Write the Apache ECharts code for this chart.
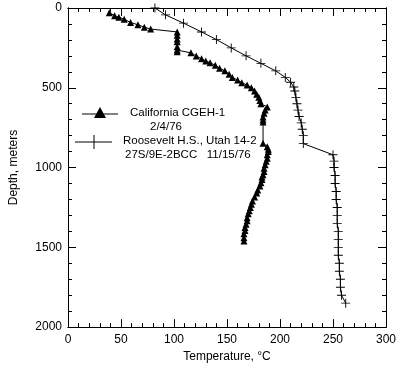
<!DOCTYPE html>
<html><head><meta charset="utf-8">
<script src="https://cdn.jsdelivr.net/npm/echarts@6/dist/echarts.min.js"></script>
<style>html,body{margin:0;padding:0;background:#fff}#c{width:399px;height:368px}</style>
</head><body><div id="c"></div>
<script>
// California CGEH-1 (2/4/76): temperature °C, depth m
const calTemp = [39,44,48,53,59,66,72,78,103,103,103,103,103,103,103,116,121,126,130,134,139,143,148,152,155,160,164,169,173,176,178,180,181,182,188,186,185,184,184,184,184,188,189,189,188,188,187,186,185,185,184,183,183,182,181,179,178,176,174,173,172,171,170,169,169,168,167,167,166,166,166];
const calDepth = [29,48,58,70,91,105,120,132,150,171,194,212,243,264,274,281,301,318,332,343,359,378,394,415,435,452,468,483,500,520,540,560,580,600,620,640,660,683,700,714,848,869,885,900,920,941,960,983,1005,1024,1045,1060,1075,1095,1116,1140,1160,1185,1209,1230,1250,1271,1290,1315,1333,1355,1375,1395,1415,1440,1460];
// Roosevelt H.S., Utah 14-2 (11/15/76)
const rooTemp = [82,92,109,126,140,154,168,182,196,205,210,213,214,215,216,217,218,220,221,222,222,250,251,251,252,252,253,253,254,254,254,255,255,255,255,256,256,257,257,258,262];
const rooDepth = [0,43,95,150,198,250,300,347,394,435,465,495,520,560,600,640,680,720,760,800,850,920,960,1000,1050,1100,1150,1200,1250,1300,1350,1400,1450,1500,1550,1600,1650,1700,1750,1800,1850];
const xTicks = [0,50,100,150,200,250,300];
const yTicks = [0,500,1000,1500,2000];
const legendNames = ['California CGEH-1','2/4/76','Roosevelt H.S., Utah 14-2','27S/9E-2BCC   11/15/76'];

const font = 'Liberation Sans, Arial, sans-serif';
const fs = 12;
const lfs = 11.5;
const crossPath = 'path://M-5,-0.5H5V0.5H-5Z M-0.5,-5H0.5V5H-0.5Z';
const chart = echarts.init(document.getElementById('c'));
function ax(o){
  return Object.assign({type:'value',min:0,
    axisLine:{show:true,onZero:false,lineStyle:{color:'#000',width:1}},
    axisTick:{show:true,inside:true,length:8,lineStyle:{color:'#000'}},
    axisLabel:{show:false},splitLine:{show:false}},o);
}
const minorTick = {show:true,inside:true,length:4,lineStyle:{color:'#000'}};
const xMax = xTicks[xTicks.length-1], yMax = yTicks[yTicks.length-1];
chart.setOption({
  animation:false,
  grid:{left:63,top:8,width:325,height:323,containLabel:false},
  xAxis:[
    ax({max:xMax,interval:50,position:'bottom',
      axisLabel:{show:true,color:'#000',fontFamily:font,fontSize:fs,margin:7},
      name:'Temperature, °C',nameLocation:'middle',nameGap:23,
      nameTextStyle:{color:'#000',fontFamily:font,fontSize:fs}}),
    ax({max:xMax,interval:50,position:'top'}),
    ax({max:xMax,interval:10,position:'bottom',axisTick:minorTick}),
    ax({max:xMax,interval:10,position:'top',axisTick:minorTick})
  ],
  yAxis:[
    ax({max:yMax,interval:500,inverse:true,position:'left',
      axisLabel:{show:true,color:'#000',fontFamily:font,fontSize:fs,margin:6,formatter:v=>String(v)},
      name:'Depth, meters',nameLocation:'middle',nameGap:48,nameRotate:90,
      nameTextStyle:{color:'#000',fontFamily:font,fontSize:fs}}),
    ax({max:yMax,interval:500,inverse:true,position:'right'}),
    ax({max:yMax,interval:100,inverse:true,position:'left',axisTick:minorTick}),
    ax({max:yMax,interval:100,inverse:true,position:'right',axisTick:minorTick})
  ],
  series:[
    {type:'line',name:legendNames[0],data:calTemp.map((t,i)=>[t,calDepth[i]]),
     symbol:'triangle',symbolSize:7,itemStyle:{color:'#000'},lineStyle:{color:'#000',width:1}},
    {type:'line',name:legendNames[2],data:rooTemp.map((t,i)=>[t,rooDepth[i]]),
     symbol:crossPath,symbolSize:9,itemStyle:{color:'#000'},lineStyle:{color:'#000',width:1}}
  ],
  graphic:[
    {type:'line',shape:{x1:82,y1:114,x2:118,y2:114},style:{stroke:'#000',lineWidth:1}},
    {type:'polygon',shape:{points:[[100,107],[94,118],[106,118]]},style:{fill:'#000'}},
    {type:'text',left:130,top:107,style:{text:legendNames[0],font:lfs+'px '+font,fill:'#000'}},
    {type:'text',left:150,top:121,style:{text:legendNames[1],font:lfs+'px '+font,fill:'#000'}},
    {type:'line',shape:{x1:75,y1:142,x2:112,y2:142},style:{stroke:'#000',lineWidth:1}},
    {type:'line',shape:{x1:94,y1:135,x2:94,y2:149},style:{stroke:'#000',lineWidth:1}},
    {type:'text',left:123,top:135,style:{text:legendNames[2],font:lfs+'px '+font,fill:'#000'}},
    {type:'text',left:125,top:149,style:{text:legendNames[3],font:lfs+'px '+font,fill:'#000'}}
  ]
});
</script></body></html>
